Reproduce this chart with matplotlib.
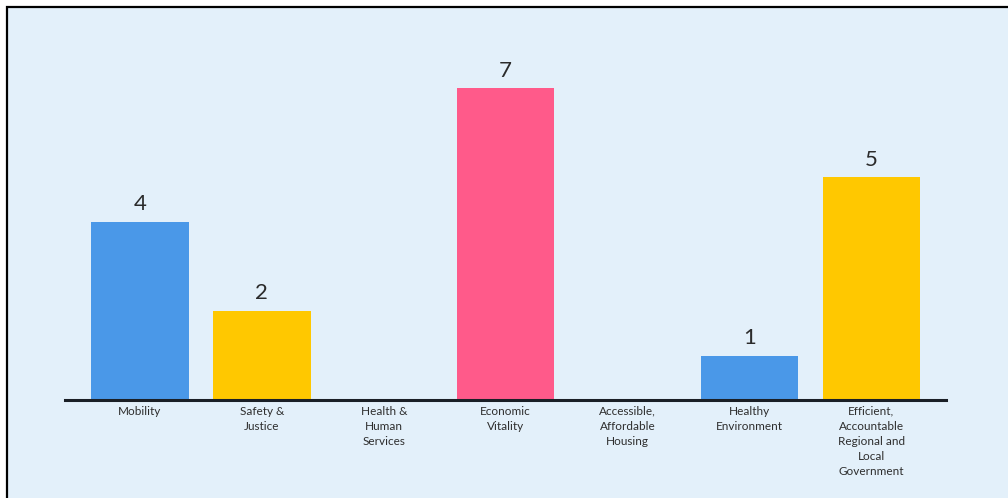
import numpy as np
import matplotlib
matplotlib.use("Agg")
import matplotlib.pyplot as plt
from matplotlib.patches import Rectangle

# ---------------- data ----------------
categories = ["Mobility", "Safety &\nJustice", "Health &\nHuman\nServices",
              "Economic\nVitality", "Accessible,\nAffordable\nHousing",
              "Healthy\nEnvironment",
              "Efficient,\nAccountable\nRegional and\nLocal\nGovernment"]
values = [4, 2, 0, 7, 0, 1, 5]
bar_colors = ["#4A98E8", "#FFC800", "#FF5A8A", "#FF5A8A", "#FF5A8A", "#4A98E8", "#FFC800"]

W, H = 1008, 498
bg = "#E3F0FA"

fig = plt.figure(figsize=(W / 100, H / 100), dpi=100)
fig.patch.set_facecolor("white")

# panel with black border on top/left
panel = Rectangle((7 / W, -0.05), 1.05, (H - 7) / H + 0.05, transform=fig.transFigure,
                  facecolor=bg, edgecolor="black", linewidth=1.6, zorder=-10)
fig.patches.append(panel)

# axes in pixel geometry: baseline at y=400 (from top), 44.5 px per unit
base_px = 400
unit_px = 44.5
top_px = 20
ax_bottom = (H - base_px) / H
ax_height = (base_px - top_px) / H
ax = fig.add_axes([65 / W, ax_bottom, (946 - 65) / W, ax_height])
ax.set_zorder(5)
ax.set_facecolor("none")

x = np.arange(len(categories))
ax.bar(x, values, width=0.8, color=bar_colors, zorder=2)
ax.set_xlim(-0.615, 6.612)
ax.set_ylim(0, (base_px - top_px) / unit_px)

for xi, v in zip(x, values):
    if v > 0:
        ax.text(xi, v + 0.17, str(v), ha="center", va="bottom", fontsize=16,
                color="#2b2b2b", family="Lato")

for s in ["top", "right", "left"]:
    ax.spines[s].set_visible(False)
ax.spines["bottom"].set_linewidth(2.2)
ax.spines["bottom"].set_color("#1a1f26")
ax.set_yticks([])
ax.set_xticks(x)
ax.set_xticklabels(categories, fontsize=8.5, color="#2e2e2e", family="Lato",
                   linespacing=1.45)
ax.tick_params(axis="x", length=0, pad=4)

fig.savefig("out.png", dpi=100, facecolor=fig.get_facecolor())
